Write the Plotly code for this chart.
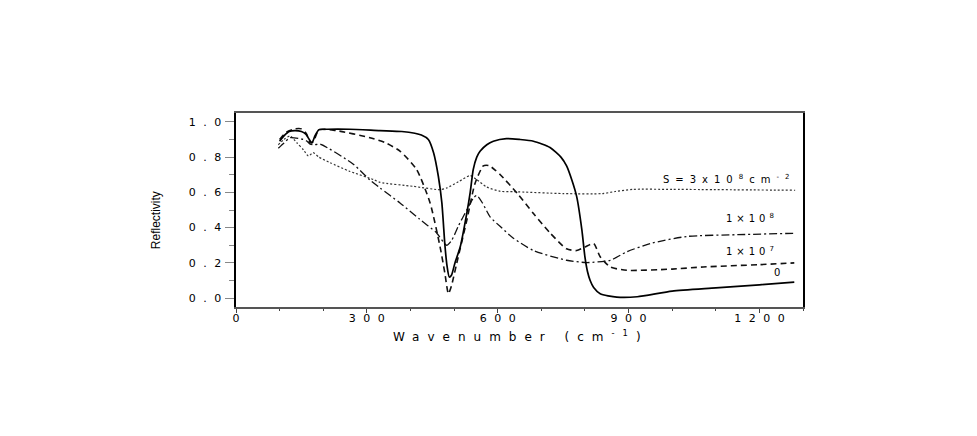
import plotly.graph_objects as go

# ---- data ----
x_s0 = [100,110,122,135,150,160,168,174,181,190,210,260,330,380,410,425,441,453,464,472,479,484,489,494,502,514,529,537,544,552,560,575,590,620,650,682,720,745,758,770,781,793,800,806,812,820,835,873,920,1000,1100,1200,1280]
y_s0 = [0.89,0.92,0.945,0.95,0.945,0.93,0.90,0.88,0.92,0.955,0.958,0.958,0.95,0.945,0.935,0.925,0.90,0.825,0.69,0.54,0.30,0.18,0.12,0.13,0.20,0.29,0.48,0.60,0.73,0.80,0.834,0.87,0.89,0.905,0.90,0.89,0.854,0.80,0.75,0.67,0.577,0.387,0.234,0.15,0.10,0.06,0.025,0.006,0.008,0.04,0.058,0.076,0.091]

x_s7 = [100,115,135,150,162,170,178,190,230,307,342,376,414,445,468,479,487,494,506,529,548,567,580,595,606,644,682,720,758,781,800,820,835,858,896,1000,1071,1200,1280]
y_s7 = [0.90,0.94,0.96,0.96,0.93,0.88,0.89,0.955,0.95,0.91,0.882,0.834,0.73,0.54,0.29,0.14,0.025,0.07,0.197,0.44,0.65,0.75,0.752,0.725,0.70,0.597,0.48,0.37,0.28,0.27,0.29,0.31,0.235,0.177,0.158,0.165,0.177,0.19,0.20]

x_s8 = [97,110,124,154,163,170,180,193,269,307,330,376,420,460,483,495,510,529,545,552,565,583,606,636,682,758,804,858,896,950,1034,1150,1282]
y_s8 = [0.85,0.88,0.91,0.90,0.89,0.873,0.87,0.873,0.76,0.67,0.625,0.54,0.45,0.37,0.30,0.33,0.41,0.50,0.57,0.583,0.54,0.46,0.406,0.34,0.27,0.215,0.202,0.215,0.263,0.31,0.35,0.36,0.368]

x_s38 = [97,110,124,140,155,166,177,190,216,260,315,330,407,468,483,510,537,552,575,606,636,751,840,870,910,1000,1282]
y_s38 = [0.87,0.90,0.92,0.88,0.84,0.806,0.825,0.80,0.768,0.72,0.673,0.657,0.634,0.615,0.625,0.66,0.695,0.672,0.63,0.606,0.604,0.593,0.593,0.605,0.617,0.617,0.612]

x_ticks = [0, 300, 600, 900, 1200]
y_ticks = [0.0, 0.2, 0.4, 0.6, 0.8, 1.0]

labels = ["S=3x10<sup>8</sup>cm<sup>-2</sup>", "1\u00d710<sup>8</sup>", "1\u00d710<sup>7</sup>", "0"]
label_x = [1131, 1183, 1183, 1241]
label_y = [0.678, 0.455, 0.269, 0.147]

FONT = "DejaVu Sans, Liberation Sans, Arial, sans-serif"

fig = go.Figure()
fig.add_trace(go.Scatter(x=x_s38, y=y_s38, mode="lines",
                         line=dict(color="#333333", width=1.2, dash="2px,2px", shape="spline", smoothing=0.6)))
fig.add_trace(go.Scatter(x=x_s8, y=y_s8, mode="lines",
                         line=dict(color="#111111", width=1.3, dash="8px,3px,2px,3px", shape="spline", smoothing=0.6)))
fig.add_trace(go.Scatter(x=x_s7, y=y_s7, mode="lines",
                         line=dict(color="#111111", width=1.6, dash="6px,4px", shape="spline", smoothing=0.6)))
fig.add_trace(go.Scatter(x=x_s0, y=y_s0, mode="lines",
                         line=dict(color="#000000", width=1.7, shape="spline", smoothing=0.6)))

annotations = []
for t, xx, yy in zip(labels, label_x, label_y):
    annotations.append(dict(x=xx, y=yy, xref="x", yref="y", text=t, showarrow=False,
                            xanchor="center", yanchor="middle",
                            font=dict(family=FONT, size=10, color="#000")))
annotations.append(dict(x=0.503, y=-0.148, xref="paper", yref="paper",
                        text="Wavenumber (cm<sup>-1</sup>)", showarrow=False,
                        xanchor="center", yanchor="middle",
                        font=dict(family=FONT, size=12, color="#000")))
annotations.append(dict(x=-0.141, y=0.448, xref="paper", yref="paper",
                        text="Reflectivity", showarrow=False, textangle=-90,
                        xanchor="center", yanchor="middle",
                        font=dict(family="Liberation Sans, Arial, sans-serif", size=12, color="#000")))

fig.update_layout(
    width=977, height=436,
    margin=dict(l=236, r=174, t=113, b=129),
    paper_bgcolor="white", plot_bgcolor="white",
    showlegend=False,
    annotations=annotations,
    xaxis=dict(range=[0, 1300], tickvals=x_ticks, ticktext=[str(v) for v in x_ticks],
               ticks="outside", ticklen=4, tickwidth=1.2, tickcolor="#444",
               minor=dict(dtick=100, ticks="outside", ticklen=2, tickcolor="#444"),
               showline=True, linecolor="#555", linewidth=1.5, mirror=True,
               showgrid=False, zeroline=False,
               tickfont=dict(family=FONT, size=11, color="#000")),
    yaxis=dict(range=[-0.05, 1.05], tickvals=y_ticks, ticktext=["%.1f" % v for v in y_ticks],
               ticks="outside", ticklen=9, tickwidth=1.2, tickcolor="#888",
               minor=dict(dtick=0.1, ticks="outside", ticklen=5, tickcolor="#888"),
               showline=True, linecolor="#000", linewidth=2, mirror=True,
               showgrid=False, zeroline=False,
               tickfont=dict(family=FONT, size=11, color="#000")),
)

post = """
document.body.style.margin = '0';
document.body.style.overflow = 'hidden';
var gd = document.getElementById('{plot_id}');
function sp(sel, v, shiftx, shifty){
  gd.querySelectorAll(sel).forEach(function(t){
    t.style.letterSpacing = v + 'px';
    var x0 = parseFloat(t.getAttribute('x') || 0);
    t.setAttribute('x', x0 + shiftx);
    if (shifty) {
      var y0 = parseFloat(t.getAttribute('y') || 0);
      t.setAttribute('y', y0 + shifty);
    }
  });
}
sp('.xtick text', 7.5, 3.75, -4);
sp('.ytick text', 7.5, 6, 0);
var anns = gd.querySelectorAll('.annotation');
var spc = [6, 4, 4, 0, 8, 0];
anns.forEach(function(a, i){
  var tx = a.querySelector('text.annotation-text');
  if (!tx) return;
  var s = spc[i] || 0;
  if (s > 0) { tx.style.letterSpacing = s + 'px'; }
});
"""

fig.write_html("out.html", post_script=post, config={"displayModeBar": False})
